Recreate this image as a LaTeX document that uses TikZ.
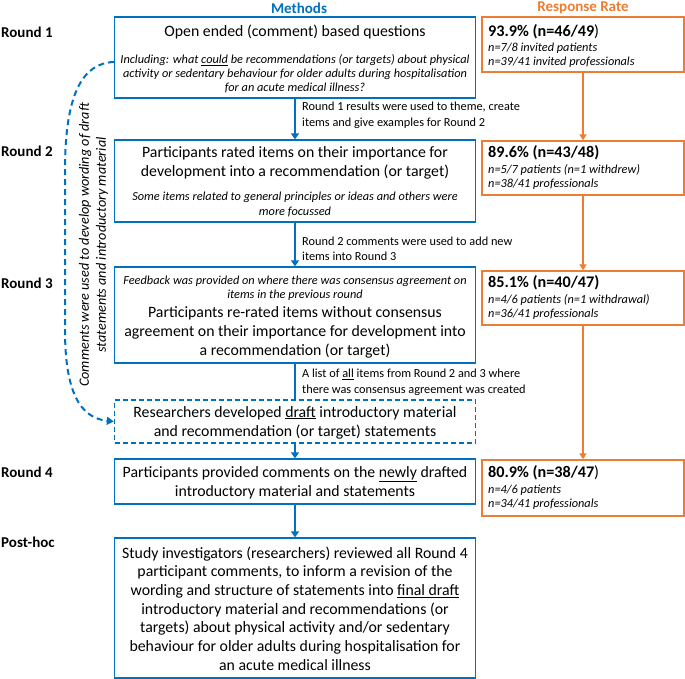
\documentclass[tikz,border=0pt]{standalone}
\usepackage{fontspec}
\setmainfont{Carlito}
\usetikzlibrary{arrows.meta}
\definecolor{mblue}{HTML}{0070C0}
\definecolor{morange}{HTML}{ED7D31}
\tikzset{
 bluebox/.style={draw=mblue, line width=1.3pt, minimum width=361pt, inner sep=0pt},
 dashbox/.style={bluebox, dash pattern=on 5pt off 3pt},
 orbox/.style={draw=morange, line width=1.3pt, minimum width=202pt, inner sep=0pt},
 big/.style={font=\fontsize{15.8}{19}\selectfont, align=center, inner sep=0pt},
 sml/.style={font=\fontsize{12.3}{13.8}\selectfont\itshape, align=center, inner sep=0pt},
 lbl/.style={font=\fontsize{12.3}{15.5}\selectfont, align=left, anchor=west, inner sep=0pt},
 rnd/.style={font=\fontsize{15}{18}\selectfont\bfseries, anchor=west, inner sep=0pt},
 hdr/.style={font=\fontsize{15}{18}\selectfont\bfseries, inner sep=0pt},
 ortitle/.style={font=\fontsize{16.2}{19}\selectfont\bfseries, anchor=west, inner sep=0pt},
 orsub/.style={font=\fontsize{12.3}{14}\selectfont\itshape, align=left, anchor=west, inner sep=0pt},
 rot/.style={font=\fontsize{14.2}{17}\selectfont\itshape, align=center, inner sep=0pt, rotate=90},
 bline/.style={draw=mblue, line width=2.2pt},
 barrow/.style={bline, -{Triangle[width=8pt,length=6pt]}},
 oarrow/.style={draw=morange, line width=2pt, -{Triangle[width=7pt,length=6pt]}},
 curvearrow/.style={draw=mblue, line width=2pt, dash pattern=on 6pt off 4pt, -{Triangle[width=8pt,length=7pt]}},
}
\begin{document}
\begin{tikzpicture}[x=1pt,y=-1pt]
\useasboundingbox (0,0) rectangle (685,679);
% headers
\node[hdr, text=mblue] (hm) at (299,8) {Methods};
\node[hdr, text=morange] (hr) at (583,8) {Response Rate};
% round labels
\node[rnd] (r1) at (1,32) {Round 1};
\node[rnd] (r2) at (1,151) {Round 2};
\node[rnd] (r3) at (1,283) {Round 3};
\node[rnd] (r4) at (1,472) {Round 4};
\node[rnd] (r5) at (1,542) {Post-hoc};
% method boxes
\node[bluebox, minimum height=81pt] (b1) at (295,57.5) {};
\node[big] (b1t) at (295,32) {Open ended (comment) based questions};
\node[sml] (b1s) at (295,74) {Including: what \underline{could} be recommendations (or targets) about physical\\activity or sedentary behaviour for older adults during hospitalisation\\for an acute medical illness?};

\node[bluebox, minimum height=82pt] (b2) at (295,181) {};
\node[big] (b2t) at (295,163) {Participants rated items on their importance for\\development into a recommendation (or target)};
\node[sml, font=\fontsize{12.3}{14.8}\selectfont\itshape] (b2s) at (295,204.5) {Some items related to general principles or ideas and others were\\more focussed};

\node[bluebox, minimum height=96pt] (b3) at (295,315) {};
\node[sml] (b3s) at (295,288) {Feedback was provided on where there was consensus agreement on\\items in the previous round};
\node[big] (b3t) at (295,332) {Participants re-rated items without consensus\\agreement on their importance for development into\\a recommendation (or target)};

\node[dashbox, minimum height=43pt] (bd) at (295,421.5) {};
\node[big] (bdt) at (295,422.5) {Researchers developed \underline{draft} introductory material\\and recommendation (or target) statements};

\node[bluebox, minimum height=45pt] (b4) at (295,481.5) {};
\node[big] (b4t) at (295,482.5) {Participants provided comments on the \underline{newly} drafted\\introductory material and statements};

\node[bluebox, minimum height=140pt] (b5) at (295,608) {};
\node[big, font=\fontsize{15.8}{18.7}\selectfont] (b5t) at (295,608.5) {Study investigators (researchers) reviewed all Round 4\\participant comments, to inform a revision of the\\wording and structure of statements into \underline{final draft}\\introductory material and recommendations (or\\targets) about physical activity and/or sedentary\\behaviour for older adults during hospitalisation for\\an acute medical illness};

% connector labels
\node[lbl] (l1) at (302,115.5) {Round 1 results were used to theme, create\\items and give examples for Round 2};
\node[lbl] (l2) at (302,249) {Round 2 comments were used to add new\\items into Round 3};
\node[lbl] (l3) at (302,382.5) {A list of \underline{all} items from Round 2 and 3 where\\there was consensus agreement was created};

% blue connectors
\draw[barrow] (b1.south) -- (b2.north);
\draw[barrow] (b2.south) -- (b3.north);
\draw[bline] (b3.south) -- (bd.north);
\draw[barrow] (bd.south) -- (b4.north);
\draw[barrow] (b4.south) -- (b5.north);

% response rate boxes
\node[orbox, minimum height=55pt] (o1) at (583,44.5) {};
\node[ortitle] (o1t) at (488,32) {\textbf{93.9\% (n=46/49}\mdseries)};
\node[orsub] (o1s) at (488,55) {n=7/8 invited patients\\n=39/41 invited professionals};

\node[orbox, minimum height=54pt] (o2) at (583,168) {};
\node[ortitle] (o2t) at (488,153) {89.6\% (n=43/48)};
\node[orsub] (o2s) at (488,176.5) {n=5/7 patients (n=1 withdrew)\\n=38/41 professionals};

\node[orbox, minimum height=54pt] (o3) at (583,298) {};
\node[ortitle] (o3t) at (488,283) {85.1\% (n=40/47)};
\node[orsub] (o3s) at (488,307) {n=4/6 patients (n=1 withdrawal)\\n=36/41 professionals};

\node[orbox, minimum height=56pt] (o4) at (583,488) {};
\node[ortitle] (o4t) at (488,473) {\textbf{80.9\% (n=38/47}\mdseries)};
\node[orsub] (o4s) at (488,497.5) {n=4/6 patients\\n=34/41 professionals};

\draw[oarrow] (o1.south) -- (o2.north);
\draw[oarrow] (o2.south) -- (o3.north);
\draw[oarrow] (o3.south) -- (o4.north);

% dashed curved feedback arrow
\coordinate (cs) at (114,62);
\draw[curvearrow] (cs) .. controls (82,63) and (65,95) .. (65,170) -- (65,330) .. controls (65,392) and (80,418) .. (bd.west);
\node[rot] (rt) at (93.5,245) {Comments were used to develop wording of draft\\statements and introductory material};
\end{tikzpicture}
\end{document}
